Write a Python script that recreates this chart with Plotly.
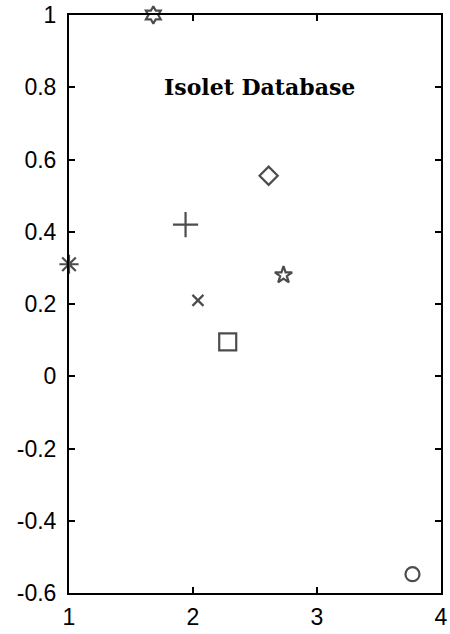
import plotly.graph_objects as go

# ---- data ----
point_names = ["hexagram", "plus", "asterisk", "x", "square", "diamond", "star", "circle"]
x_vals = [1.68, 1.94, 1.00, 2.04, 2.28, 2.61, 2.73, 3.77]
y_vals = [1.00, 0.42, 0.31, 0.21, 0.095, 0.555, 0.28, -0.548]

x_ticks = [1, 2, 3, 4]
x_tick_labels = ["1", "2", "3", "4"]
y_ticks = [-0.6, -0.4, -0.2, 0, 0.2, 0.4, 0.6, 0.8, 1]
y_tick_labels = ["-0.6", "-0.4", "-0.2", "0", "0.2", "0.4", "0.6", "0.8", "1"]

title_text = "Isolet Database"

# ---- styles ----
symbols = ["hexagram-open", "cross-thin-open", "asterisk-open", "x-thin-open",
           "square-open", "diamond-open", "star-open", "circle-open"]
sizes = [13, 18, 16, 11, 17, 14, 13, 14]

fig = go.Figure()
fig.add_trace(go.Scatter(
    x=x_vals, y=y_vals, mode="markers",
    text=point_names,
    marker=dict(symbol=symbols, size=sizes, color="black",
                line=dict(color="black", width=2.2)),
    cliponaxis=False, showlegend=False,
))

fig.add_annotation(
    x=2.54, y=0.8, xref="x", yref="y", text="<b>" + title_text + "</b>",
    showarrow=False,
    font=dict(family="DejaVu Serif", size=22, color="black"),
)

axis_common = dict(
    showline=True, linecolor="black", linewidth=2, mirror="ticks",
    ticks="inside", ticklen=6, tickwidth=1.5, tickcolor="black",
    showgrid=False, zeroline=False,
    tickfont=dict(family="Liberation Sans, Arial", size=23, color="black"),
)

fig.update_xaxes(range=[1, 4], tickvals=x_ticks, ticktext=x_tick_labels,
                 ticklabelstandoff=2, **axis_common)
fig.update_yaxes(range=[-0.6, 1], tickvals=y_ticks, ticktext=y_tick_labels,
                 ticklabelstandoff=6, **axis_common)

fig.update_layout(
    width=450, height=634,
    margin=dict(l=69, r=9, t=15, b=41, autoexpand=False),
    paper_bgcolor="white", plot_bgcolor="white",
)

fig.write_html("out.html")
